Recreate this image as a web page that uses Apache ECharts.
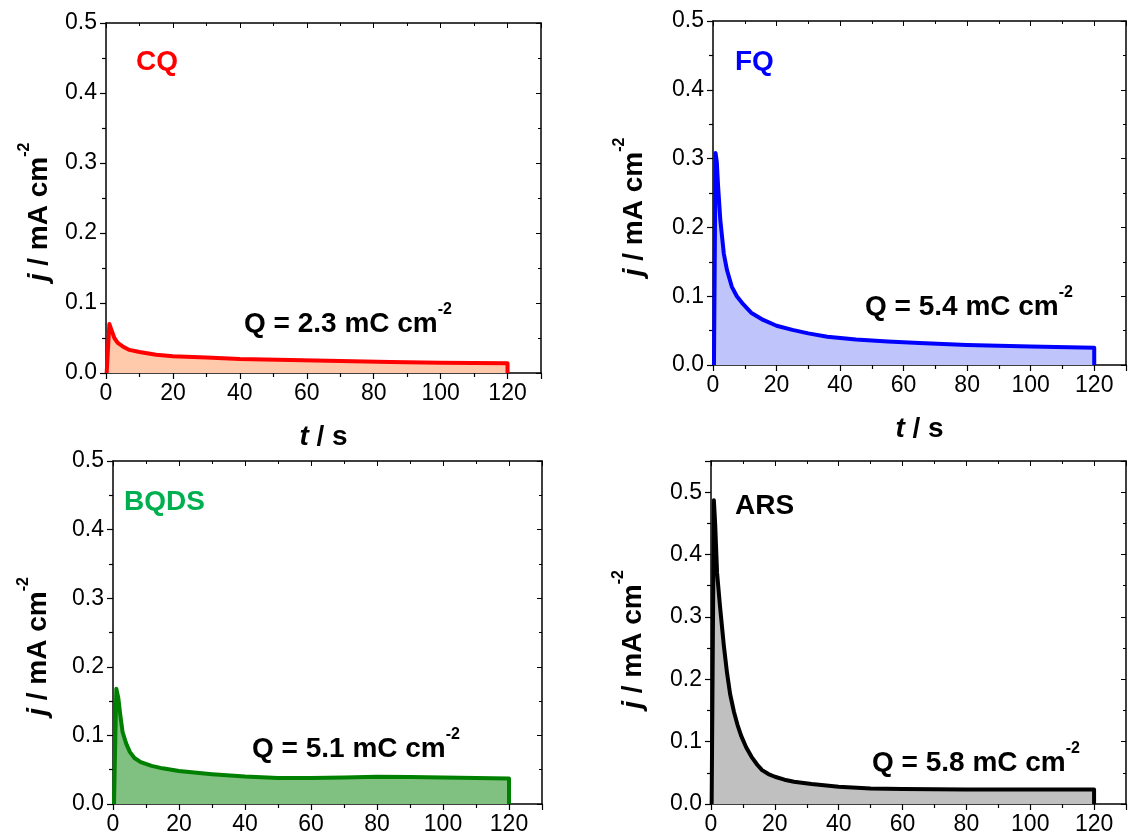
<!DOCTYPE html>
<html>
<head>
<meta charset="utf-8">
<script src="https://cdn.jsdelivr.net/npm/echarts@6/dist/echarts.min.js"></script>
<style>
html,body{margin:0;padding:0;background:#fff;}
#chart{width:1129px;height:836px;}
</style>
</head>
<body>
<div id="chart"></div>
<script>
// ---- data (t in s, j in mA cm^-2) ----
const panelNames = ['CQ', 'FQ', 'BQDS', 'ARS'];
const chargeLabels = ['2.3', '5.4', '5.1', '5.8'];
const xTicks = [0, 20, 40, 60, 80, 100, 120];
const yTicks = [0.0, 0.1, 0.2, 0.3, 0.4, 0.5];

const tCQ = [0.2, 1.0, 1.6, 2.5, 3.5, 5, 7, 10, 15, 20, 30, 40, 55, 70, 85, 100, 120, 120];
const jCQ = [0, 0.070, 0.062, 0.050, 0.043, 0.038, 0.033, 0.030, 0.026, 0.024, 0.022, 0.020, 0.0186, 0.017, 0.0158, 0.0148, 0.014, 0];

const tFQ = [0.3, 0.8, 1.2, 1.6, 2.3, 3.4, 4.4, 5.9, 7.5, 9.2, 12, 15.8, 20, 25, 30, 36, 45, 55, 65, 80, 100, 120, 120];
const jFQ = [0, 0.308, 0.295, 0.26, 0.211, 0.162, 0.138, 0.114, 0.100, 0.090, 0.076, 0.0655, 0.057, 0.051, 0.046, 0.041, 0.037, 0.034, 0.032, 0.029, 0.027, 0.025, 0];

const tBQ = [0.3, 1, 1.6, 2.2, 2.9, 4, 5.1, 6.5, 8.4, 11.7, 15, 20, 30, 40, 50, 60, 70, 80, 90, 100, 110, 120, 120];
const jBQ = [0, 0.168, 0.155, 0.13, 0.105, 0.088, 0.076, 0.067, 0.061, 0.0556, 0.052, 0.048, 0.0435, 0.040, 0.038, 0.038, 0.0385, 0.0396, 0.0392, 0.0386, 0.0378, 0.037, 0];

const tAR = [0.2, 0.9, 1.3, 1.9, 2.8, 4, 5, 6, 7.2, 8.3, 9.4, 11, 12.7, 14.5, 16, 18, 20, 23, 26, 31.5, 40, 50, 60, 80, 100, 120, 120];
const jAR = [0, 0.487, 0.45, 0.371, 0.318, 0.255, 0.211, 0.176, 0.1475, 0.127, 0.110, 0.091, 0.0756, 0.063, 0.0543, 0.048, 0.0437, 0.039, 0.0357, 0.032, 0.0277, 0.025, 0.024, 0.0234, 0.0234, 0.0234, 0];

const times = [tCQ, tFQ, tBQ, tAR];
const currents = [jCQ, jFQ, jBQ, jAR];
const yMax = [0.5, 0.5, 0.5, 0.55];

// ---- styles ----
const FONT = 'Liberation Sans, Arial, sans-serif';
const lineColors = ['#ff0000', '#0000ff', '#008000', '#000000'];
const fillColors = ['#ffc9ab', '#bfc5fa', '#80c080', '#c0c0c0'];
const nameColors = ['#ff0000', '#0000ff', '#00b050', '#000000'];
const grids = [
  {left: 106, top: 23, width: 435, height: 350},
  {left: 713, top: 21, width: 425, height: 344},
  {left: 113, top: 461, width: 429, height: 345},
  {left: 711, top: 461, width: 425, height: 345}
];
const yNameGap = [53, 65, 61, 64];
const yNamePad = [28, 28, 28, 14];
const labelPos = [[136, 64], [735, 64], [124, 504], [735, 508]];
const qPos = [[244, 322], [865, 305], [252, 747], [872, 761]];

const richName = {
  i: {fontFamily: FONT, fontSize: 28, fontWeight: 'bold', fontStyle: 'italic', color: '#000', verticalAlign: 'bottom', padding: [8, 0, 0, 0]},
  m: {fontFamily: FONT, fontSize: 28, fontWeight: 'bold', color: '#000', verticalAlign: 'bottom', padding: [8, 0, 0, 0]},
  s: {fontFamily: FONT, fontSize: 16, fontWeight: 'bold', color: '#000', verticalAlign: 'top'}
};

const xAxes = [], yAxes = [], series = [], graphics = [];
for (let p = 0; p < 4; p++) {
  const bottomX = {
    type: 'value', gridIndex: p, min: 0, max: 130, interval: 20, position: 'bottom',
    axisLine: {show: true, onZero: false, lineStyle: {color: '#000', width: 1.5}},
    axisTick: {show: true, inside: false, length: 6, lineStyle: {color: '#000', width: 1.2}},
    minorTick: {show: true, splitNumber: 2, length: 4, lineStyle: {color: '#000', width: 1.2}},
    splitLine: {show: false},
    axisLabel: {show: true, fontFamily: FONT, fontSize: 23, color: '#000', margin: 9,
      formatter: v => xTicks.indexOf(v) >= 0 ? String(v) : ''}
  };
  if (p < 2) {
    bottomX.name = '{i|t}{m| / s}';
    bottomX.nameLocation = 'middle';
    bottomX.nameGap = 42;
    bottomX.nameTextStyle = {rich: richName};
  }
  xAxes.push(bottomX);
  xAxes.push({
    type: 'value', gridIndex: p, min: 0, max: 130, interval: 20, position: 'top',
    axisLine: {show: true, onZero: false, lineStyle: {color: '#000', width: 1.5}},
    axisTick: {show: true, inside: true, length: 5, lineStyle: {color: '#000', width: 1}},
    minorTick: {show: true, splitNumber: 2, length: 3, lineStyle: {color: '#000', width: 1}},
    splitLine: {show: false}, axisLabel: {show: false}
  });
  yAxes.push({
    type: 'value', gridIndex: p, min: 0, max: yMax[p], interval: 0.1, position: 'left',
    axisLine: {show: true, onZero: false, lineStyle: {color: '#000', width: 1.5}},
    axisTick: {show: true, inside: false, length: 6, lineStyle: {color: '#000', width: 1.2}},
    minorTick: {show: true, splitNumber: 2, length: 4, lineStyle: {color: '#000', width: 1.2}},
    splitLine: {show: false},
    axisLabel: {show: true, fontFamily: FONT, fontSize: 23, color: '#000', margin: 9, showMaxLabel: yMax[p] === 0.5,
      formatter: v => {
        const hit = yTicks.find(t => Math.abs(t - v) < 1e-6);
        return hit === undefined ? '' : hit.toFixed(1);
      }},
    name: '{i|j}{m| / mA cm}{s|-2}',
    nameLocation: 'middle', nameRotate: 90, nameGap: yNameGap[p],
    nameTextStyle: {rich: richName, padding: [0, yNamePad[p], 0, 0]}
  });
  yAxes.push({
    type: 'value', gridIndex: p, min: 0, max: yMax[p], interval: 0.1, position: 'right',
    axisLine: {show: true, onZero: false, lineStyle: {color: '#000', width: 1.5}},
    axisTick: {show: true, inside: true, length: 5, lineStyle: {color: '#000', width: 1}},
    minorTick: {show: true, splitNumber: 2, length: 3, lineStyle: {color: '#000', width: 1}},
    splitLine: {show: false}, axisLabel: {show: false}
  });
  series.push({
    type: 'line', name: panelNames[p], xAxisIndex: 2 * p, yAxisIndex: 2 * p,
    data: times[p].map((t, k) => [t, currents[p][k]]),
    showSymbol: false, smooth: false, silent: true, animation: false,
    lineStyle: {color: lineColors[p], width: 4, join: 'round'},
    areaStyle: {color: fillColors[p], opacity: 1},
    z: 3
  });
  graphics.push({
    type: 'text', left: labelPos[p][0], top: labelPos[p][1] - 16,
    style: {text: panelNames[p], fill: nameColors[p], font: 'bold 28px ' + FONT}
  });
  graphics.push({
    type: 'text', left: qPos[p][0], top: qPos[p][1] - 20,
    style: {
      text: '{m|Q = ' + chargeLabels[p] + ' mC cm}{s|-2}',
      rich: richName
    }
  });
}

const chart = echarts.init(document.getElementById('chart'), null, {renderer: 'canvas'});
chart.setOption({
  animation: false,
  backgroundColor: '#fff',
  grid: grids,
  xAxis: xAxes,
  yAxis: yAxes,
  series: series,
  graphic: graphics
});
</script>
</body>
</html>
